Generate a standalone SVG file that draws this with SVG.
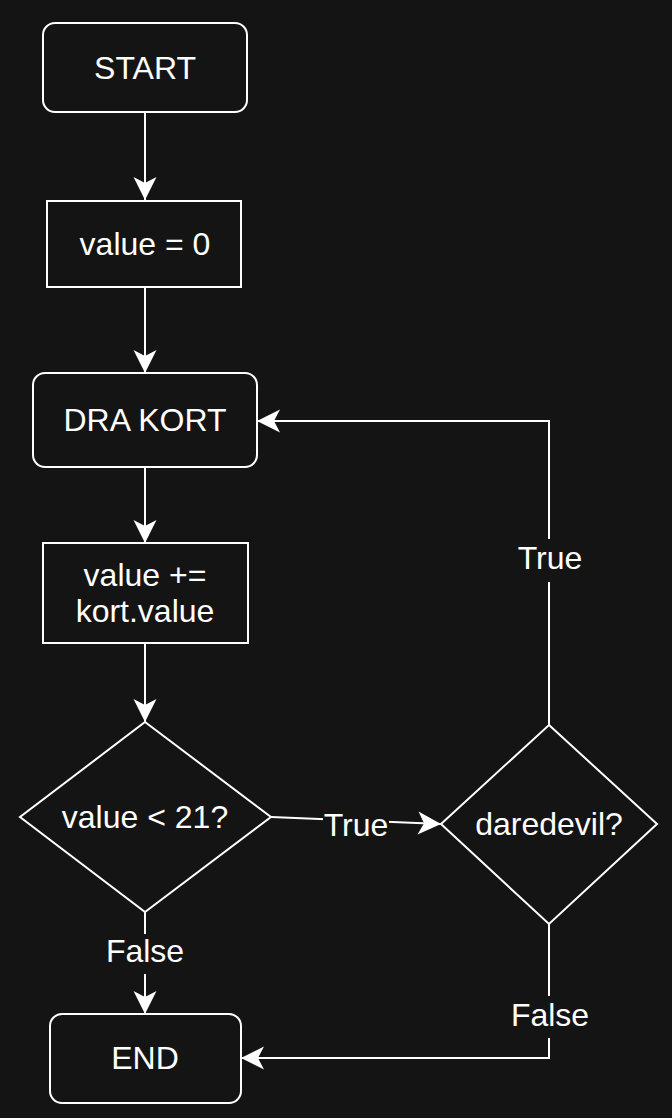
<svg xmlns="http://www.w3.org/2000/svg" width="672" height="1118" viewBox="0 0 672 1118">
  <defs>
    <marker id="arr" markerUnits="userSpaceOnUse" viewBox="-24 -12 26 24" markerWidth="26" markerHeight="24" refX="0" refY="0" orient="auto">
      <path d="M0,0 L-23,-11.5 L-17,0 L-23,11.5 Z" fill="#ffffff"/>
    </marker>
  </defs>
  <style>
    .shape { fill: #141414; stroke: #ffffff; stroke-width: 2; }
    .edge { fill: none; stroke: #ffffff; stroke-width: 2; }
    .txt { font-family: "Liberation Sans", Arial, Helvetica, sans-serif; font-size: 32px; fill: #ffffff; text-anchor: middle; dominant-baseline: central; }
    .lblbg { fill: #141414; stroke: none; }
  </style>
  <rect x="0" y="0" width="672" height="1118" fill="#141414"/>

  <g id="connectors">
    <path class="edge" d="M145,112 L145,200" marker-end="url(#arr)"/>
    <path class="edge" d="M145,287 L145,373" marker-end="url(#arr)"/>
    <path class="edge" d="M145,467 L145,543" marker-end="url(#arr)"/>
    <path class="edge" d="M145,643 L145,722" marker-end="url(#arr)"/>
    <path class="edge" d="M271,817 L441,824" marker-end="url(#arr)"/>
    <path class="edge" d="M145,912 L145,1014" marker-end="url(#arr)"/>
    <path class="edge" d="M549,924 L549,1058 L241,1058" marker-end="url(#arr)"/>
    <path class="edge" d="M549,725 L549,421 L257,421" marker-end="url(#arr)"/>
    <g id="edge-labels">
      <rect class="lblbg" x="323" y="806" width="66" height="36"/>
      <text class="txt" x="356" y="825">True</text>
      <rect class="lblbg" x="103" y="934" width="84" height="40"/>
      <text class="txt" x="145" y="951">False</text>
      <rect class="lblbg" x="507" y="996" width="86" height="42"/>
      <text class="txt" x="550" y="1015">False</text>
      <rect class="lblbg" x="513" y="539" width="74" height="43"/>
      <text class="txt" x="550" y="558">True</text>
    </g>
  </g>

  <g id="start">
    <rect class="shape" x="43" y="23" width="204" height="89" rx="12" ry="12"/>
    <text class="txt" x="145" y="68">START</text>
  </g>
  <g id="init">
    <rect class="shape" x="47" y="201" width="194" height="86"/>
    <text class="txt" x="145" y="244">value = 0</text>
  </g>
  <g id="draw">
    <rect class="shape" x="33" y="373" width="224" height="94" rx="12" ry="12"/>
    <text class="txt" x="145" y="420">DRA KORT</text>
  </g>
  <g id="add">
    <rect class="shape" x="43" y="543" width="205" height="100"/>
    <text class="txt" x="145" y="575">value +=</text>
    <text class="txt" x="145" y="611">kort.value</text>
  </g>
  <g id="check21">
    <polygon class="shape" points="145,722 271,817 145,912 20,817"/>
    <text class="txt" x="145" y="817">value &lt; 21?</text>
  </g>
  <g id="daredevil">
    <polygon class="shape" points="549,725 657,824 549,924 441,824"/>
    <text class="txt" x="549" y="824">daredevil?</text>
  </g>
  <g id="end">
    <rect class="shape" x="50" y="1014" width="191" height="89" rx="12" ry="12"/>
    <text class="txt" x="145" y="1058">END</text>
  </g>
</svg>
